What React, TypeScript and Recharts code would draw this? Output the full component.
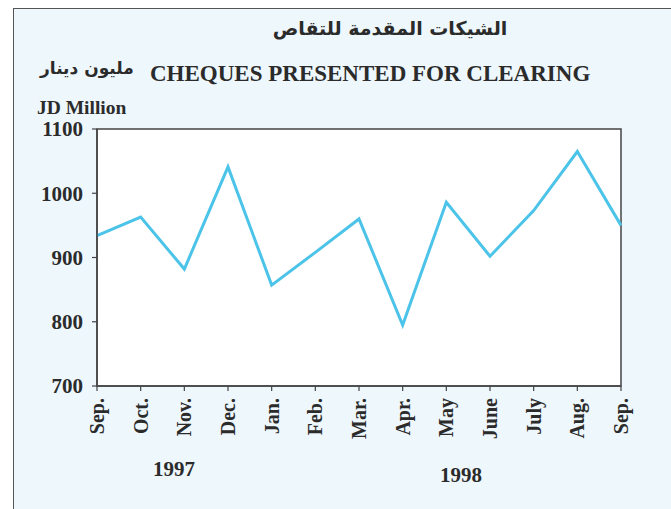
import { LineChart, Line, XAxis, YAxis, ReferenceArea } from "recharts";

const months = ["Sep.", "Oct.", "Nov.", "Dec.", "Jan.", "Feb.", "Mar.", "Apr.", "May", "June", "July", "Aug.", "Sep."];
const cheques = [934, 963, 882, 1041, 857, 908, 960, 795, 986, 902, 973, 1065, 950];
const yTicks = [700, 800, 900, 1000, 1100];
const years = ["1997", "1998"];

const data = months.map((m, i) => ({ key: i, month: m, value: cheques[i] }));

const serif = "'Liberation Serif', 'Times New Roman', serif";
const arabic = "'DejaVu Sans', 'Noto Sans', sans-serif";
const ink = "#2b2b2b";

const MonthTick = (props: any) => {
  const { x, y, payload } = props;
  return (
    <text
      x={0}
      y={0}
      transform={`translate(${x + 7},${y + 5}) rotate(-90)`}
      textAnchor="end"
      fontFamily={serif}
      fontWeight="bold"
      fontSize={20}
      fill={ink}
    >
      {months[payload.value]}
    </text>
  );
};

const App = () => {
  return (
    <div style={{ position: "absolute", left: 0, top: 0, width: 671, height: 509, overflow: "hidden", background: "#ffffff" }}>
      <div
        style={{
          position: "absolute",
          left: 13,
          top: 8,
          width: 700,
          height: 560,
          background: "#eef7fc",
          borderLeft: "1.5px solid #555",
          borderTop: "1.5px solid #555",
        }}
      />
      <div style={{ position: "absolute", left: 0, top: 0 }}>
        <LineChart width={671} height={509} data={data} margin={{ top: 129, right: 50, bottom: 73, left: 37 }}>
          <XAxis
            dataKey="key"
            type="number"
            domain={[0, 12]}
            ticks={data.map((d) => d.key)}
            interval={0}
            height={50}
            axisLine={{ stroke: "#444", strokeWidth: 1.5 }}
            tickLine={{ stroke: "#444", strokeWidth: 1.2 }}
            tickSize={5}
            tick={<MonthTick />}
          />
          <YAxis
            domain={[700, 1100]}
            ticks={yTicks}
            width={60}
            axisLine={{ stroke: "#444", strokeWidth: 1.5 }}
            tickLine={{ stroke: "#444", strokeWidth: 1.2 }}
            tickSize={5}
            tickMargin={9}
            tick={{ fontFamily: serif, fontWeight: "bold", fontSize: 21, fill: ink }}
          />
          <ReferenceArea x1={0} x2={12} y1={700} y2={1100} fill="#ffffff" fillOpacity={1} stroke="#444" strokeWidth={1.5} />
          <Line
            dataKey="value"
            stroke="#4cc3e8"
            strokeWidth={3}
            dot={false}
            isAnimationActive={false}
            strokeLinejoin="miter"
          />
        </LineChart>
      </div>
      <div style={{ position: "absolute", left: 0, width: 780, top: 17, textAlign: "center", fontFamily: arabic, fontWeight: "bold", fontSize: 19, color: ink, direction: "rtl" }}>
        الشيكات المقدمة للتقاص
      </div>
      <div style={{ position: "absolute", left: 40, top: 58, fontFamily: arabic, fontWeight: "bold", fontSize: 17, color: ink, direction: "rtl", whiteSpace: "nowrap" }}>
        مليون دينار
      </div>
      <div style={{ position: "absolute", left: 150, top: 61, fontFamily: serif, fontWeight: "bold", fontSize: 23, color: ink, whiteSpace: "nowrap" }}>
        CHEQUES PRESENTED FOR CLEARING
      </div>
      <div style={{ position: "absolute", left: 37, top: 97, fontFamily: serif, fontWeight: "bold", fontSize: 19.5, color: ink, whiteSpace: "nowrap" }}>
        JD Million
      </div>
      <div style={{ position: "absolute", left: 153, top: 457, fontFamily: serif, fontWeight: "bold", fontSize: 21, color: ink }}>
        {years[0]}
      </div>
      <div style={{ position: "absolute", left: 440, top: 463, fontFamily: serif, fontWeight: "bold", fontSize: 21, color: ink }}>
        {years[1]}
      </div>
    </div>
  );
};

export default App;
